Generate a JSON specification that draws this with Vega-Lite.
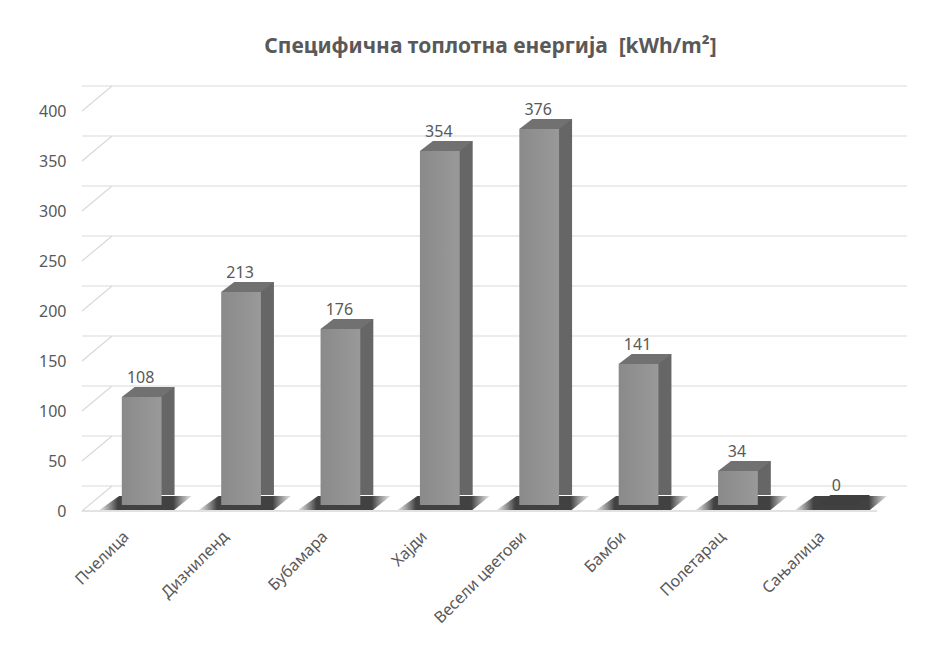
{
  "$schema": "https://vega.github.io/schema/vega-lite/v6.json",
  "width": 795,
  "height": 400,
  "autosize": {"type": "none"},
  "padding": {"left": 82, "top": 111, "right": 60, "bottom": 137},
  "background": "white",
  "config": {"view": {"stroke": null}, "font": "Noto Sans"},
  "title": {
    "text": "Специфична топлотна енергија \u00a0[kWh/m²]",
    "fontSize": 21,
    "fontWeight": "bold",
    "color": "#595959",
    "font": "Noto Sans",
    "anchor": "middle",
    "dx": 11,
    "offset": 28
  },
  "datasets": {
    "bars": [
      {"cat": "Пчелица", "v": 108},
      {"cat": "Дизниленд", "v": 213},
      {"cat": "Бубамара", "v": 176},
      {"cat": "Хајди", "v": 354},
      {"cat": "Весели цветови", "v": 376},
      {"cat": "Бамби", "v": 141},
      {"cat": "Полетарац", "v": 34},
      {"cat": "Сањалица", "v": 0}
    ],
    "ticks": [
      {"t": 0}, {"t": 50}, {"t": 100}, {"t": 150}, {"t": 200},
      {"t": 250}, {"t": 300}, {"t": 350}, {"t": 400}
    ]
  },
  "encoding": {
    "x": {
      "field": "cat",
      "type": "nominal",
      "sort": null,
      "scale": {"paddingInner": 0.6, "paddingOuter": 0.3},
      "axis": {
        "title": null,
        "labelAngle": -45,
        "labelFontSize": 16,
        "labelColor": "#595959",
        "labelFont": "Noto Sans",
        "domain": false,
        "ticks": false,
        "labelPadding": 17,
        "labelOffset": -11
      }
    }
  },
  "layer": [
    {
      "data": {"name": "ticks"},
      "mark": {"type": "rule", "color": "#d9d9d9", "strokeWidth": 1.2, "xOffset": 30, "x2Offset": 30, "yOffset": -25, "y2Offset": -25},
      "encoding": {
        "x": null,
        "y": {
          "field": "t",
          "type": "quantitative",
          "scale": {"domain": [0, 400], "nice": false},
          "axis": {
            "title": null,
            "values": [0, 50, 100, 150, 200, 250, 300, 350, 400],
            "labelFontSize": 16,
            "labelColor": "#595959",
            "labelFont": "Noto Sans",
            "domain": false,
            "ticks": false,
            "grid": false,
            "labelPadding": 16
          }
        }
      }
    },
    {
      "data": {"name": "ticks"},
      "transform": [{"filter": "datum.t == 0"}],
      "mark": {"type": "rule", "color": "#d9d9d9", "strokeWidth": 1.5},
      "encoding": {
        "x": null,
        "y": {"field": "t", "type": "quantitative"}
      }
    },
    {
      "data": {"name": "ticks"},
      "mark": {"type": "rule", "color": "#d9d9d9", "strokeWidth": 1.2, "xOffset": -29.8, "x2Offset": 0.2, "y2Offset": -25},
      "encoding": {
        "x": {"datum": "Пчелица", "bandPosition": 0},
        "x2": {"datum": "Пчелица", "bandPosition": 0},
        "y": {"field": "t", "type": "quantitative"},
        "y2": {"field": "t"}
      }
    },
    {
      "data": {"name": "bars"},
      "mark": {
        "type": "point",
        "filled": true,
        "strokeWidth": 0,
        "opacity": 1,
        "size": 10000,
        "shape": "M -0.85 0.1 L 0.65 0.1 L 1 -0.18 L -0.45 -0.18 Z",
        "xOffset": 10,
        "yOffset": -6,
        "color": {
          "gradient": "linear", "x1": 0, "x2": 1, "y1": 0, "y2": 0,
          "stops": [
            {"offset": 0, "color": "rgba(90,90,90,0.15)"},
            {"offset": 0.2, "color": "rgba(55,55,55,0.95)"},
            {"offset": 0.8, "color": "rgba(55,55,55,0.95)"},
            {"offset": 1, "color": "rgba(90,90,90,0.15)"}
          ]
        }
      },
      "encoding": {
        "y": {"datum": 0, "type": "quantitative"}
      }
    },
    {
      "data": {"name": "bars"},
      "mark": {"type": "bar", "color": "#666666", "xOffset": 23, "yOffset": -16, "y2Offset": -8},
      "encoding": {
        "y": {"field": "v", "type": "quantitative"}
      }
    },
    {
      "data": {"name": "bars"},
      "mark": {
        "type": "bar",
        "xOffset": 10,
        "yOffset": -6,
        "y2Offset": -6,
        "color": {
          "gradient": "linear", "x1": 0, "x2": 1, "y1": 0, "y2": 0,
          "stops": [
            {"offset": 0, "color": "#8a8a8a"},
            {"offset": 1, "color": "#999999"}
          ]
        }
      },
      "encoding": {
        "y": {"field": "v", "type": "quantitative"}
      }
    },
    {
      "data": {"name": "bars"},
      "mark": {
        "type": "point",
        "filled": true,
        "strokeWidth": 0,
        "opacity": 1,
        "size": 4356,
        "shape": "M -0.603 0 L 0.603 0 L 0.997 -0.303 L -0.209 -0.303 Z",
        "xOffset": 10,
        "yOffset": -6
      },
      "encoding": {
        "y": {"field": "v", "type": "quantitative"},
        "color": {
          "condition": {"test": "datum.v == 0", "value": "#3f3f3f"},
          "value": "#717171"
        }
      }
    },
    {
      "data": {"name": "bars"},
      "mark": {"type": "text", "fontSize": 16, "color": "#595959", "baseline": "bottom", "xOffset": 9, "yOffset": -17, "font": "Noto Sans"},
      "encoding": {
        "y": {"field": "v", "type": "quantitative"},
        "text": {"field": "v", "type": "quantitative"}
      }
    }
  ]
}
